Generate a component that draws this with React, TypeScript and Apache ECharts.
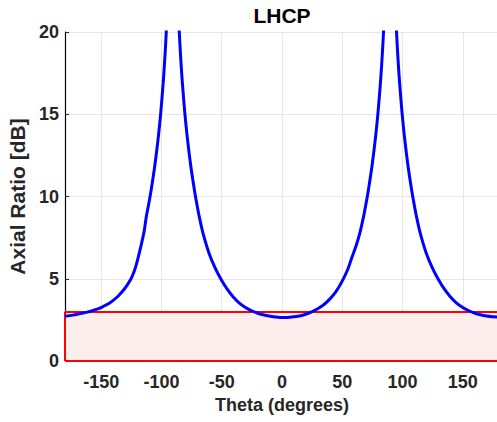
import React, { useEffect, useRef } from "react";
import * as echarts from "echarts";

// Theta (degrees)
const thetaDeg: number[] = [
  -180, -173.6, -167.5, -161.6, -156.5, -151.6, -148, -143.6, -140, -135.6,
  -131.6, -128.6, -125.2, -122.6, -120.5, -117.1, -114.3, -112.6, -110.6, -108.6,
  -105.6, -102.6, -100.6, -98.6, -97.6, -96.6, -95.6, -94.6, -92.6, -90.6,
  -88.6, -86.6, -85.6, -84.6, -83.6, -82.6, -80.6, -78.6, -75.6, -72.6,
  -70.6, -68.6, -65.6, -60.6, -55.6, -50.6, -45.6, -40.6, -35.6, -30.6,
  -25.6, -20.6, -15.6, -10.6, -5.6, 0, 4.6, 9.6, 14.6, 19.6,
  24.6, 29.6, 34.6, 39.6, 44.6, 49.6, 54.6, 58, 61.6, 64.6,
  67.6, 69.6, 71.6, 74.6, 77.6, 79.6, 81.6, 82.6, 83.6, 84.6,
  85.6, 87.6, 89.6, 91.6, 93.6, 94.6, 95.6, 96.6, 97.6, 99.6,
  101.6, 104.6, 107.6, 109.6, 111.6, 114.6, 119.6, 124.6, 129.6, 134.6,
  139.6, 144.6, 149.6, 154.6, 159.6, 164.6, 169.6, 174.6, 180,
];

// Axial ratio (dB) at those angles
const axialRatioDb: number[] = [
  2.72, 2.79, 2.88, 2.97, 3.08, 3.2, 3.33, 3.5, 3.69, 3.97,
  4.3, 4.6, 5.0, 5.45, 5.95, 6.95, 7.9, 8.76, 9.53, 10.37,
  11.82, 13.61, 15.07, 16.86, 17.92, 19.16, 20.6, 22.4, 27.9, 45,
  27.9, 22.4, 20.6, 19.16, 17.92, 16.86, 15.07, 13.61, 11.82, 10.37,
  9.53, 8.76, 7.79, 6.57, 5.68, 4.97, 4.38, 3.91, 3.54, 3.27,
  3.07, 2.92, 2.81, 2.73, 2.68, 2.64, 2.65, 2.69, 2.74, 2.84,
  2.99, 3.18, 3.42, 3.76, 4.2, 4.81, 5.58, 6.3, 7.04, 7.79,
  8.76, 9.53, 10.37, 11.82, 13.61, 15.07, 16.86, 17.92, 19.16, 20.6,
  22.4, 27.9, 45, 27.9, 22.4, 20.6, 19.16, 17.92, 16.86, 15.07,
  13.61, 11.82, 10.37, 9.53, 8.76, 7.79, 6.57, 5.68, 4.97, 4.38,
  3.91, 3.54, 3.27, 3.07, 2.92, 2.81, 2.73, 2.69, 2.68,
];

const thetaRange: number[] = [-180, 180];
const thresholdDb: number[] = [0, 3];
const yTicks: number[] = [0, 20, 5];

const FONT = "'Liberation Sans', Arial, Helvetica, sans-serif";

export default function App() {
  const ref = useRef<HTMLDivElement>(null);
  useEffect(() => {
    if (!ref.current) return;
    const chart = echarts.init(ref.current, undefined, { renderer: "svg" });
    const data = thetaDeg.map((t, i) => [t, axialRatioDb[i]]);
    const [x0, x1] = thetaRange;
    const [y0, y1] = thresholdDb;
    chart.setOption({
      animation: false,
      backgroundColor: "#ffffff",
      title: {
        text: "LHCP",
        left: 282,
        textAlign: "center",
        top: 5,
        padding: 0,
        textStyle: { fontFamily: FONT, fontSize: 21, fontWeight: "bold", color: "#000000" },
      },
      grid: {
        left: 65,
        top: 32,
        width: 434,
        height: 329,
        containLabel: false,
        outerBoundsMode: "none",
      },
      xAxis: {
        type: "value",
        min: x0,
        max: x1,
        splitNumber: 7,
        name: "Theta (degrees)",
        nameLocation: "middle",
        nameGap: 35,
        nameTextStyle: { fontFamily: FONT, fontSize: 18, fontWeight: "bold", color: "#262626" },
        axisLine: { show: false, onZero: false },
        axisTick: { show: false },
        axisLabel: {
          showMinLabel: false,
          showMaxLabel: false,
          margin: 12,
          fontFamily: FONT,
          fontSize: 18,
          fontWeight: "bold",
          color: "#262626",
        },
        splitLine: { show: true, lineStyle: { color: "#e6e6e6", width: 1 } },
      },
      yAxis: {
        type: "value",
        position: "left",
        min: yTicks[0],
        max: yTicks[1],
        interval: yTicks[2],
        name: "Axial Ratio [dB]",
        nameLocation: "middle",
        nameGap: 32,
        nameTextStyle: { fontFamily: FONT, fontSize: 21, fontWeight: "bold", color: "#262626" },
        axisLine: { show: true, onZero: false, lineStyle: { color: "#000000", width: 1.2 } },
        axisTick: { show: true, inside: true, length: 4, lineStyle: { color: "#262626" } },
        axisLabel: {
          margin: 6,
          fontFamily: FONT,
          fontSize: 18,
          fontWeight: "bold",
          color: "#262626",
        },
        splitLine: { show: true, lineStyle: { color: "#e6e6e6", width: 1 } },
      },
      series: [
        {
          type: "line",
          name: "threshold",
          data: [],
          z: 3,
          silent: true,
          markArea: {
            silent: true,
            itemStyle: { color: "#fdeeee", borderWidth: 0 },
            data: [[{ xAxis: x0, yAxis: y0 }, { xAxis: x1, yAxis: y1 }]],
          },
          markLine: {
            silent: true,
            symbol: "none",
            label: { show: false },
            lineStyle: { color: "#ff0000", width: 2, type: "solid" },
            data: [
              [{ coord: [x0, y1] }, { coord: [x1, y1] }],
              [{ coord: [x0, y0] }, { coord: [x1, y0] }],
              [{ coord: [x0, y0] }, { coord: [x0, y1] }],
            ],
          },
        },
        {
          type: "line",
          name: "LHCP",
          data,
          z: 5,
          showSymbol: false,
          symbol: "none",
          smooth: 0.25,
          clip: true,
          lineStyle: { color: "#0000ff", width: 3 },
        },
      ],
    });
    return () => chart.dispose();
  }, []);
  return (
    <div
      ref={ref}
      style={{ position: "fixed", left: 0, top: 0, width: 497, height: 422 }}
    />
  );
}
